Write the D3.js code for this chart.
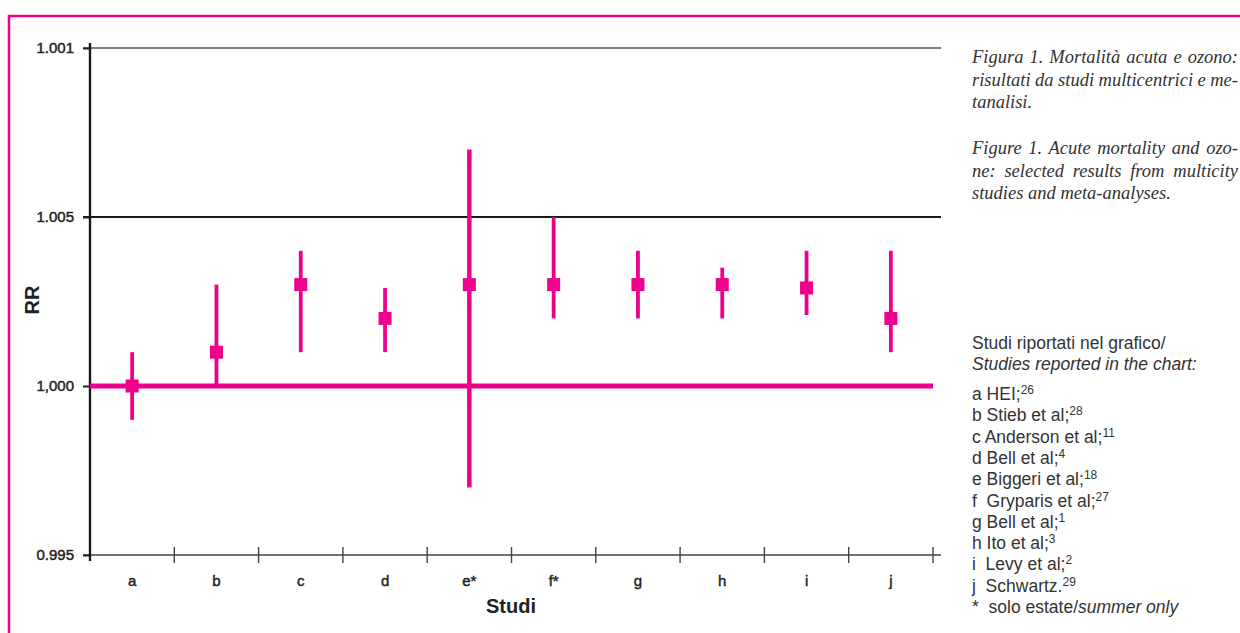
<!DOCTYPE html>
<html>
<head>
<meta charset="utf-8">
<script src="https://cdnjs.cloudflare.com/ajax/libs/d3/7.8.5/d3.min.js"></script>
<style>
  body { margin: 0; background: #fff; }
  svg { display: block; }
</style>
</head>
<body>
<div id="chart"></div>
<script>
// data
const studies = ["a", "b", "c", "d", "e*", "f*", "g", "h", "i", "j"];
const rr    = [1.000, 1.001, 1.003, 1.002, 1.003, 1.003, 1.003, 1.003, 1.0029, 1.002];
const lower = [0.999, 1.000, 1.001, 1.001, 0.997, 1.002, 1.002, 1.002, 1.0021, 1.001];
const upper = [1.001, 1.003, 1.004, 1.0029, 1.007, 1.005, 1.004, 1.0035, 1.004, 1.004];

const yTickValues = [0.995, 1.000, 1.005, 1.010];
const yTickLabels = ["0.995", "1,000", "1.005", "1.001"];   // top label printed as in the original

const captionIt = [
    "Figura 1. Mortalità acuta e ozono:",
    "risultati da studi multicentrici e me-",
    "tanalisi."
];
const captionEn = [
    "Figure 1. Acute mortality and ozo-",
    "ne: selected results from multicity",
    "studies and meta-analyses."
];
const legendKeys = ["a", "b", "c", "d", "e", "f ", "g", "h", "i ", "j "];
const legendNames = ["HEI;", "Stieb et al;", "Anderson et al;", "Bell et al;", "Biggeri et al;",
    "Gryparis et al;", "Bell et al;", "Ito et al;", "Levy et al;", "Schwartz."];
const legendRefs = ["26", "28", "11", "4", "18", "27", "1", "3", "2", "29"];

const pink = "#ec008c";
const W = 1240, H = 633;
const sans = "Liberation Sans, Arial, sans-serif";

const svg = d3.select("#chart").append("svg")
    .attr("width", W)
    .attr("height", H);

// frame
svg.append("path")
    .attr("d", `M9,${H} L9,16 L${W},16`)
    .attr("fill", "none")
    .attr("stroke", pink)
    .attr("stroke-width", 2.5);

const plotLeft = 90, plotRight = 933;

const x = d3.scaleBand()
    .domain(studies)
    .range([plotLeft, plotRight])
    .padding(0);

const y = d3.scaleLinear()
    .domain([0.995, 1.010])
    .range([555, 48]);

// gridlines at 1.005 and top
svg.append("g")
    .selectAll("line")
    .data(yTickValues.filter(v => v > 1.000))
    .enter()
    .append("line")
    .attr("x1", 83)
    .attr("x2", 941)
    .attr("y1", d => y(d))
    .attr("y2", d => y(d))
    .attr("stroke", (d, i) => i === 1 ? "#555" : "#1a1a1a")
    .attr("stroke-width", (d, i) => i === 1 ? 1.6 : 2);

// x axis (ticks at band boundaries)
const xAxisG = svg.append("g");
xAxisG.append("line")
    .attr("x1", 83).attr("x2", 941)
    .attr("y1", y(0.995)).attr("y2", y(0.995))
    .attr("stroke", "#444").attr("stroke-width", 1.6);
xAxisG.selectAll(".xtick")
    .data(studies)
    .enter()
    .append("line")
    .attr("class", "xtick")
    .attr("x1", d => x(d) + x.bandwidth())
    .attr("x2", d => x(d) + x.bandwidth())
    .attr("y1", y(0.995) - 8)
    .attr("y2", y(0.995) + 8)
    .attr("stroke", "#444")
    .attr("stroke-width", 1.4);
xAxisG.selectAll(".xlab")
    .data(studies)
    .enter()
    .append("text")
    .attr("class", "xlab")
    .attr("x", d => x(d) + x.bandwidth() / 2)
    .attr("y", 586)
    .attr("text-anchor", "middle")
    .attr("font-family", sans)
    .attr("font-size", 15)
    .attr("fill", "#222")
    .attr("stroke", "#222")
    .attr("stroke-width", 0.45)
    .text(d => d);

// y axis
const yAxis = d3.axisLeft(y)
    .tickValues(yTickValues)
    .tickFormat((d, i) => yTickLabels[i])
    .tickSize(7)
    .tickPadding(9);

svg.append("g")
    .attr("transform", `translate(${plotLeft},0)`)
    .call(yAxis)
    .call(g => g.select(".domain").remove())
    .call(g => g.selectAll(".tick line").attr("stroke", "#222").attr("stroke-width", 2))
    .call(g => g.selectAll(".tick text")
        .attr("font-family", sans)
        .attr("font-size", 15)
        .attr("fill", "#222")
        .attr("stroke", "#222")
        .attr("stroke-width", 0.45));

svg.append("line")
    .attr("x1", plotLeft).attr("x2", plotLeft)
    .attr("y1", 43).attr("y2", 561)
    .attr("stroke", "#1a1a1a").attr("stroke-width", 2.4);

// reference line at RR = 1
svg.append("line")
    .attr("x1", plotLeft)
    .attr("x2", plotRight)
    .attr("y1", y(1.000))
    .attr("y2", y(1.000))
    .attr("stroke", pink)
    .attr("stroke-width", 5);

// error bars
svg.selectAll(".ci")
    .data(studies)
    .enter()
    .append("line")
    .attr("class", "ci")
    .attr("x1", d => x(d) + x.bandwidth() / 2)
    .attr("x2", d => x(d) + x.bandwidth() / 2)
    .attr("y1", (d, i) => y(lower[i]))
    .attr("y2", (d, i) => y(upper[i]))
    .attr("stroke", pink)
    .attr("stroke-width", (d, i) => i === 4 ? 4.5 : 3.8);

// point estimates
const sq = 13;
svg.selectAll(".pt")
    .data(studies)
    .enter()
    .append("rect")
    .attr("class", "pt")
    .attr("x", d => x(d) + x.bandwidth() / 2 - sq / 2)
    .attr("y", (d, i) => y(rr[i]) - sq / 2)
    .attr("width", sq)
    .attr("height", sq)
    .attr("fill", pink);

// axis titles
svg.append("text")
    .attr("transform", "translate(39,300) rotate(-90)")
    .attr("text-anchor", "middle")
    .attr("font-family", sans)
    .attr("font-weight", "bold")
    .attr("font-size", 20)
    .attr("fill", "#222")
    .text("RR");

svg.append("text")
    .attr("x", 511)
    .attr("y", 613)
    .attr("text-anchor", "middle")
    .attr("font-family", sans)
    .attr("font-weight", "bold")
    .attr("font-size", 20)
    .attr("fill", "#222")
    .text("Studi");

// caption, justified by stretching word spacing
const capX = 972, capWidth = 266;
function caption(lines, top) {
    lines.forEach((t, i) => {
        const txt = svg.append("text")
            .attr("x", capX)
            .attr("y", top + i * 22.5)
            .attr("font-family", "Liberation Serif, Times New Roman, serif")
            .attr("font-style", "italic")
            .attr("font-size", 18.5)
            .attr("fill", "#333")
            .text(t);
        if (i < lines.length - 1) {
            const len = txt.node().getComputedTextLength();
            const gaps = t.split(" ").length - 1;
            if (gaps > 0) txt.attr("word-spacing", (capWidth - len) / gaps);
        }
    });
}
caption(captionIt, 63);
caption(captionEn, 154);

// study list
svg.append("text")
    .attr("x", capX).attr("y", 349)
    .attr("font-family", sans).attr("font-size", 17.5)
    .attr("fill", "#333")
    .text("Studi riportati nel grafico/");
svg.append("text")
    .attr("x", capX).attr("y", 370)
    .attr("font-family", sans).attr("font-size", 17.5)
    .attr("font-style", "italic")
    .attr("fill", "#333")
    .text("Studies reported in the chart:");

legendKeys.forEach((k, i) => {
    const t = svg.append("text")
        .attr("x", capX)
        .attr("y", 400 + i * 21.3)
        .attr("font-family", sans)
        .attr("font-size", 17.5)
        .attr("fill", "#333")
        .attr("xml:space", "preserve");
    t.append("tspan").text(k + " " + legendNames[i]);
    t.append("tspan")
        .attr("dy", -6)
        .attr("font-size", 12)
        .text(legendRefs[i]);
});

const note = svg.append("text")
    .attr("x", capX)
    .attr("y", 400 + 10 * 21.3)
    .attr("font-family", sans)
    .attr("font-size", 17.5)
    .attr("fill", "#333")
    .attr("xml:space", "preserve");
note.append("tspan").text("*  solo estate/");
note.append("tspan").attr("font-style", "italic").text("summer only");
</script>
</body>
</html>
